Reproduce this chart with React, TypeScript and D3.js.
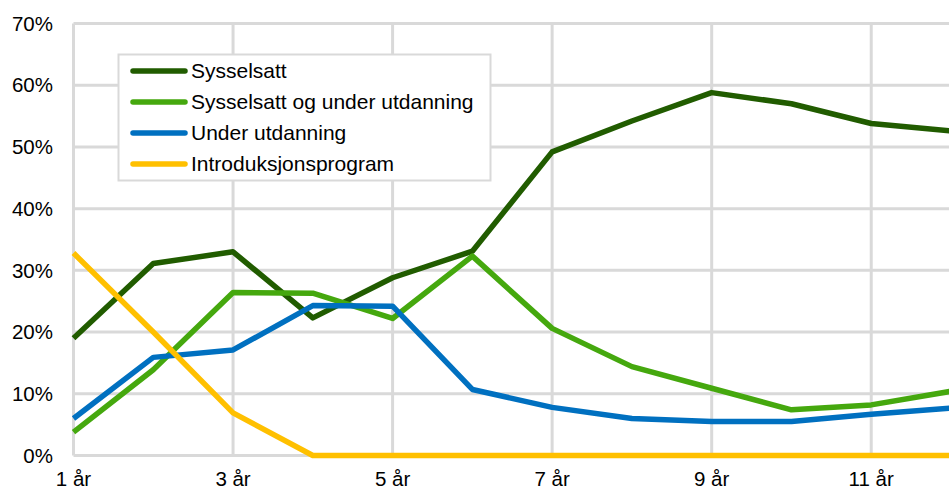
import React from "react";
import * as d3 from "d3";

const years = [1, 2, 3, 4, 5, 6, 7, 8, 9, 10, 11, 12];
const xTickYears = [1, 3, 5, 7, 9, 11];
const yTicks = [0, 10, 20, 30, 40, 50, 60, 70];

const seriesNames = [
  "Sysselsatt",
  "Sysselsatt og under utdanning",
  "Under utdanning",
  "Introduksjonsprogram",
];
const seriesColors = ["#215C00", "#45A80E", "#0070C0", "#FFC000"];

const sysselsatt = [19.0, 31.1, 33.0, 22.3, 28.8, 33.1, 49.2, 54.2, 58.8, 57.0, 53.8, 52.6];
const sysselsattUtd = [3.8, 13.9, 26.4, 26.3, 22.2, 32.3, 20.6, 14.4, 10.9, 7.4, 8.2, 10.4];
const underUtd = [6.0, 15.9, 17.1, 24.3, 24.2, 10.7, 7.8, 6.0, 5.5, 5.5, 6.7, 7.7];
const intro = [32.8, 20.0, 6.9, 0, 0, 0, 0, 0, 0, 0, 0, 0];

const seriesValues = [sysselsatt, sysselsattUtd, underUtd, intro];

const W = 949;
const H = 490;

export default function App() {
  const x = d3.scaleLinear().domain([1, 12]).range([73.5, 951]);
  const y = d3.scaleLinear().domain([0, 70]).range([455.5, 23.5]);
  const line = d3
    .line<number>()
    .x((_, i) => x(years[i]))
    .y((v) => y(v));

  const font = "Arial, 'Liberation Sans', sans-serif";
  const grid = "#D9D9D9";

  return (
    <div style={{ position: "absolute", left: 0, top: 0 }}>
      <svg width={W} height={H} style={{ display: "block", background: "#fff" }}>
        {yTicks.map((t) => (
          <line key={"h" + t} x1={x(1)} x2={W} y1={y(t)} y2={y(t)} stroke={grid} strokeWidth={3} />
        ))}
        {xTickYears.map((t) => (
          <line key={"v" + t} x1={x(t)} x2={x(t)} y1={y(70)} y2={y(0)} stroke={grid} strokeWidth={3} />
        ))}
        {yTicks.map((t) => (
          <text
            key={"yl" + t}
            x={53}
            y={y(t)}
            dy="0.35em"
            textAnchor="end"
            fontFamily={font}
            fontSize={20.5}
            fill="#000"
          >
            {t + "%"}
          </text>
        ))}
        {xTickYears.map((t) => (
          <text
            key={"xl" + t}
            x={x(t)}
            y={486}
            textAnchor="middle"
            fontFamily={font}
            fontSize={20.5}
            fill="#000"
          >
            {t + " år"}
          </text>
        ))}
        {seriesValues.map((vals, i) => (
          <path
            key={"s" + i}
            d={line(vals) || ""}
            fill="none"
            stroke={seriesColors[i]}
            strokeWidth={5.5}
            strokeLinejoin="round"
          />
        ))}
        <rect x={118.5} y={54.5} width={372} height={126} fill="#fff" stroke={grid} strokeWidth={2} />
        {seriesNames.map((n, i) => {
          const ly = 71 + i * 31;
          return (
            <g key={"lg" + i}>
              <line
                x1={133}
                x2={185}
                y1={ly}
                y2={ly}
                stroke={seriesColors[i]}
                strokeWidth={5.5}
                strokeLinecap="round"
              />
              <text x={191} y={ly} dy="0.35em" fontFamily={font} fontSize={21} fill="#000">
                {n}
              </text>
            </g>
          );
        })}
      </svg>
    </div>
  );
}
